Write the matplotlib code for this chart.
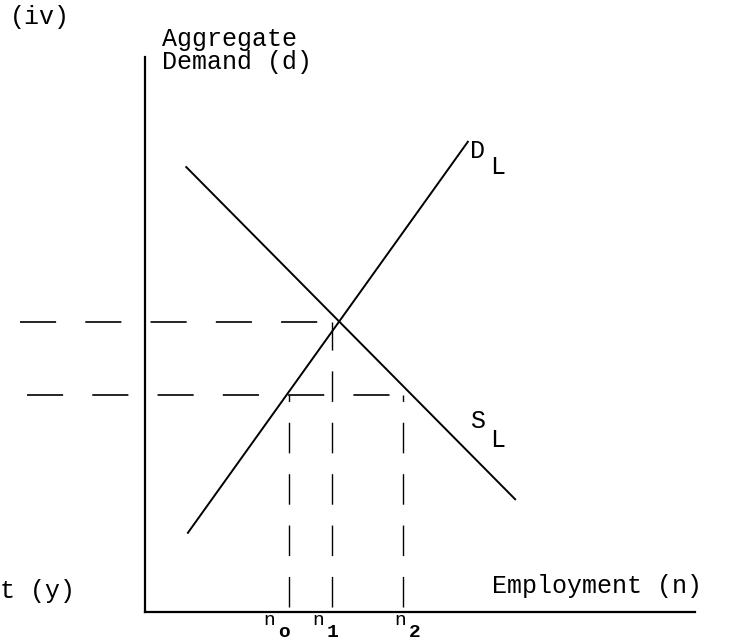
import matplotlib
matplotlib.use('Agg')
import matplotlib.pyplot as plt

plt.rcParams['font.family'] = ['Liberation Mono', 'DejaVu Sans Mono']
plt.rcParams['lines.scale_dashes'] = False

# curves (employment n, aggregate demand d)
dl_n = [0.78, 5.87]
dl_d = [1.44, 8.55]
sl_n = [0.75, 6.73]
sl_d = [8.09, 2.05]

# levels for the dashed guides
d_levels = [5.27, 3.95]
d_left = [-2.27, -2.15]
d_right = [3.49, 4.69]
n_vals = [2.62, 3.40, 4.69]
n_tops = [3.95, 5.27, 3.95]
n_labels = ['n', 'n', 'n']
n_subs = ['o', '1', '2']

W, H = 732, 640
fig = plt.figure(figsize=(W / 100, H / 100), dpi=100)
ax = fig.add_axes([0, 0, 1, 1])
scale = 55.0
ax.set_xlim(-145 / scale, (W - 145) / scale)
ax.set_ylim((612 - H) / scale, 612 / scale)
ax.axis('off')

lw = 1.4
# axes drawn as lines
ax.plot([0, 0], [0, 10.09], color='black', lw=1.6)
ax.plot([0, 10.0], [0, 0], color='black', lw=1.6)

ax.plot(dl_n, dl_d, color='black', lw=lw)
ax.plot(sl_n, sl_d, color='black', lw=lw)

for lev, x0, x1 in zip(d_levels, d_left, d_right):
    ln, = ax.plot([x0, x1], [lev, lev], color='black', lw=1.2)
    ln.set_dashes((26, 21))

for nv, top in zip(n_vals, n_tops):
    ln, = ax.plot([nv, nv], [0.1, top], color='black', lw=1.0)
    ln.set_dashes((22, 15))


def put(x, y, s, size, **kw):
    fig.text(x / W, 1 - y / H, s, fontsize=size, **kw)


put(10, 17, '(iv)', 18, va='center')
put(162, 27, 'Aggregate\nDemand (d)', 18, va='top', linespacing=0.95)
put(470, 158, 'D', 18, va='baseline')
put(490, 174, 'L', 18, va='baseline')
put(470, 428, 'S', 18, va='baseline')
put(490, 447, 'L', 18, va='baseline')
put(492, 593, 'Employment (n)', 18, va='baseline')
put(0, 598, 't (y)', 18, va='baseline')

n_offsets = [-26, -20, -9]
for nv, off, lab, sub in zip(n_vals, n_offsets, n_labels, n_subs):
    px = 145 + nv * scale + off
    put(px, 625, lab, 14, va='baseline')
    put(px + 15, 637, sub, 14, va='baseline', fontweight='bold')

fig.savefig('out.png', dpi=100)
